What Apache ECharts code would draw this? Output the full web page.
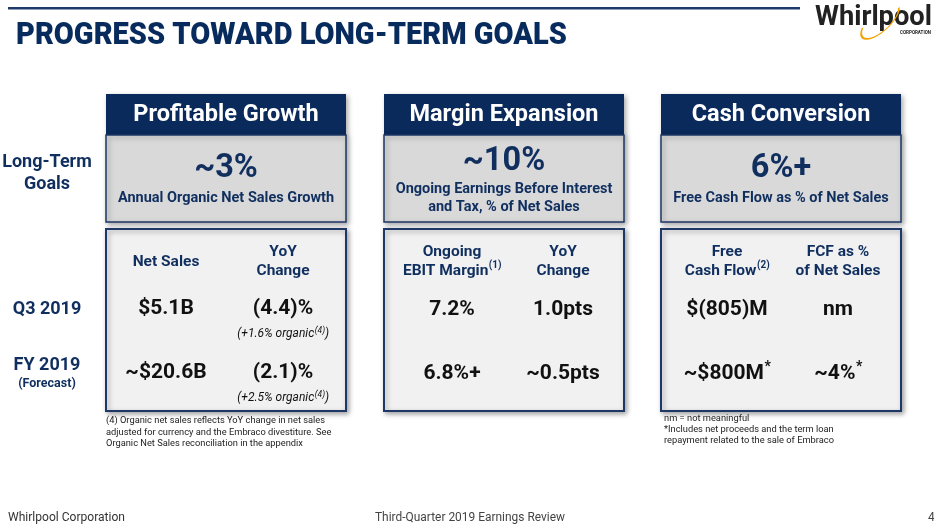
<!DOCTYPE html>
<html>
<head>
<meta charset="utf-8">
<script src="https://cdn.jsdelivr.net/npm/echarts@6/dist/echarts.min.js"></script>
<style>
  html, body { margin: 0; padding: 0; background: #fff; }
  #slide { width: 934px; height: 529px; }
</style>
</head>
<body>
<div id="slide"></div>
<script>
// ── Slide content ────────────────────────────────────────────────────────────
const slideTitle  = 'PROGRESS TOWARD LONG-TERM GOALS';
const pillars     = ['Profitable Growth', 'Margin Expansion', 'Cash Conversion'];
const goalValues  = ['~3%', '~10%', '6%+'];
const goalNotes   = [
  ['Annual Organic Net Sales Growth'],
  ['Ongoing Earnings Before Interest', 'and Tax, % of Net Sales'],
  ['Free Cash Flow as % of Net Sales'],
];
// each header line: [text, superscript]
const colHeads = [
  [[['Net Sales', '']], [['YoY', ''], ['Change', '']]],
  [[['Ongoing', ''], ['EBIT Margin', '(1)']], [['YoY', ''], ['Change', '']]],
  [[['Free', ''], ['Cash Flow', '(2)']], [['FCF as %', ''], ['of Net Sales', '']]],
];
const q3Values = [[['$5.1B', ''], ['(4.4)%', '']], [['7.2%', ''], ['1.0pts', '']], [['$(805)M', ''], ['nm', '']]];
const fyValues = [[['~$20.6B', ''], ['(2.1)%', '']], [['6.8%+', ''], ['~0.5pts', '']], [['~$800M', '*'], ['~4%', '*']]];
const organicNotes = [['(+1.6% organic', '(4)', ')'], ['(+2.5% organic', '(4)', ')']];
const rowLabels = { goals: ['Long-Term', 'Goals'], q3: 'Q3 2019', fy: 'FY 2019', fySub: '(Forecast)' };
const footnoteLeft  = [
  '(4) Organic net sales reflects YoY change in net sales',
  'adjusted for currency and the Embraco divestiture. See',
  'Organic Net Sales reconciliation in the appendix',
];
const footnoteRight = [
  'nm = not meaningful',
  '*Includes net proceeds and the term loan',
  'repayment related to the sale of Embraco',
];
const footer = ['Whirlpool Corporation', 'Third-Quarter 2019 Earnings Review', '4'];

// ── Layout / style ───────────────────────────────────────────────────────────
const NAVY   = '#0a2a5c';
const TXT    = '#102f5f';
const FONT   = 'Roboto, "Open Sans", sans-serif';
const boxX   = [106, 384, 661];
const boxW   = 240;
const subX   = [[60, 177], [68, 179], [66, 177]];

const _ctx = document.createElement('canvas').getContext('2d');
function _font(size, opts) { return `${opts.italic ? 'italic ' : ''}${opts.weight || 'bold'} ${size}px ${FONT}`; }
function _w(text, font) { _ctx.font = font; return _ctx.measureText(text).width; }

function txt(x, y, text, size, opts = {}) {
  const font = _font(size, opts);
  const el = {
    type: 'text',
    x, y,
    silent: true,
    style: {
      text,
      font,
      fill: opts.color || TXT,
      textAlign: opts.align || 'center',
      textVerticalAlign: opts.valign || 'middle',
    },
  };
  if (opts.fitWidth) {
    // origin is local to the element, so (0,0) keeps the anchor in place
    el.scaleX = opts.fitWidth / _w(text, font);
    el.originX = 0;
    el.originY = 0;
  }
  return el;
}

// centred text with a raised superscript (and optional tail after it)
function supTxt(cx, y, main, sup, size, supSize, opts = {}, tail = '') {
  if (!sup) return [txt(cx, y, main, size, opts)];
  const f1 = _font(size, opts), f2 = _font(supSize, opts);
  const w1 = _w(main, f1), w2 = _w(sup, f2), w3 = tail ? _w(tail, f1) : 0;
  const left = cx - (w1 + w2 + w3) / 2;
  const out = [
    txt(left, y, main, size, Object.assign({}, opts, { align: 'left' })),
    txt(left + w1 + 0.5, y - size * (opts.raise || 0.38), sup, supSize, Object.assign({}, opts, { align: 'left' })),
  ];
  if (tail) out.push(txt(left + w1 + w2 + 0.5, y, tail, size, Object.assign({}, opts, { align: 'left' })));
  return out;
}

const g = [];

// top rule + title
g.push({ type: 'rect', silent: true, shape: { x: 8, y: 7, width: 792, height: 2.5 }, style: { fill: '#1f3b6c' } });
g.push(txt(16, 36, slideTitle, 32, { align: 'left', color: '#082b5d', weight: 900, fitWidth: 551 }));

// logo
g.push(txt(815, 18, 'Whirlpool', 27, { align: 'left', color: '#222', weight: 'bold', fitWidth: 117 }));
g.push({
  type: 'arc', silent: true,
  shape: { cx: 0, cy: 0, r: 24, startAngle: 0.3, endAngle: 3.9, clockwise: true },
  x: 880, y: 21, scaleY: 0.42, rotation: 0.75,
  style: { stroke: '#f0a500', lineWidth: 2.4, fill: null },
});
g.push(txt(931, 33, 'CORPORATION', 4.5, { align: 'right', color: '#222' }));

// row labels
g.push(txt(47, 162, rowLabels.goals[0], 18));
g.push(txt(47, 184, rowLabels.goals[1], 18));
g.push(txt(47, 309, rowLabels.q3, 18));
g.push(txt(47, 365, rowLabels.fy, 18));
g.push(txt(47, 384, rowLabels.fySub, 12.5));

pillars.forEach((name, i) => {
  const x0 = boxX[i];
  const cx = x0 + boxW / 2;
  const shadow = { shadowBlur: 5, shadowColor: 'rgba(0,0,0,0.35)', shadowOffsetX: 2, shadowOffsetY: 2 };

  // header bar
  g.push({ type: 'rect', silent: true, shape: { x: x0, y: 94, width: boxW, height: 41 },
           style: Object.assign({ fill: NAVY }, shadow) });
  g.push(txt(cx, 115, name, 23.5, { color: '#fff' }));

  // goal box
  g.push({ type: 'rect', silent: true, shape: { x: x0, y: 135, width: boxW, height: 87 },
           style: Object.assign({ fill: '#d9d9d9', stroke: '#1d3767', lineWidth: 1.5 }, shadow) });
  const notes = goalNotes[i];
  const valY = notes.length > 1 ? 162 : 169;
  g.push(txt(cx, valY, goalValues[i], 32.5));
  notes.forEach((line, k) => g.push(txt(cx, (notes.length > 1 ? 189 : 198) + k * 18, line, 14.5)));

  // data box
  g.push({ type: 'rect', silent: true, shape: { x: x0, y: 229, width: boxW, height: 182 },
           style: Object.assign({ fill: '#f1f1f2', stroke: '#1d3767', lineWidth: 2 }, shadow) });

  colHeads[i].forEach((lines, j) => {
    const sx = x0 + subX[i][j];
    if (lines.length === 1) {
      g.push(txt(sx, 262, lines[0][0], 15.5));
    } else {
      lines.forEach((line, k) => g.push(...supTxt(sx, 252 + k * 19, line[0], line[1], 15.5, 10)));
    }
    const yQ = i === 0 ? 309 : 310;
    const yF = i === 0 ? 373 : 374;
    g.push(...supTxt(sx, yQ, q3Values[i][j][0], q3Values[i][j][1], 21, 13, { color: '#111' }));
    g.push(...supTxt(sx, yF, fyValues[i][j][0], fyValues[i][j][1], 21, 14, { color: '#111', raise: 0.3 }));
  });
});

// organic notes under YoY change (first pillar)
const noteOpts = { italic: true, weight: 'normal', color: '#111', raise: 0.3 };
g.push(...supTxt(boxX[0] + subX[0][1], 334, organicNotes[0][0], organicNotes[0][1], 12, 8.5, noteOpts, organicNotes[0][2]));
g.push(...supTxt(boxX[0] + subX[0][1], 398, organicNotes[1][0], organicNotes[1][1], 12, 8.5, noteOpts, organicNotes[1][2]));

// footnotes
footnoteLeft.forEach((line, k) => g.push(txt(106, 421 + k * 11.5, line, 9.3, { align: 'left', weight: 'normal', color: '#222' })));
footnoteRight.forEach((line, k) => g.push(txt(664, 419 + k * 11, line, 9.3, { align: 'left', weight: 'normal', color: '#222' })));

// footer
g.push(txt(8, 518, footer[0], 12, { align: 'left', weight: 'normal', color: '#333', fitWidth: 117 }));
g.push(txt(470, 518, footer[1], 12, { weight: 'normal', color: '#444', fitWidth: 190 }));
g.push(txt(928, 518, footer[2], 12, { align: 'left', weight: 'normal', color: '#444' }));

const chart = echarts.init(document.getElementById('slide'), null, { renderer: 'canvas' });
chart.setOption({
  backgroundColor: '#fff',
  animation: false,
  graphic: { elements: g },
});
</script>
</body>
</html>
